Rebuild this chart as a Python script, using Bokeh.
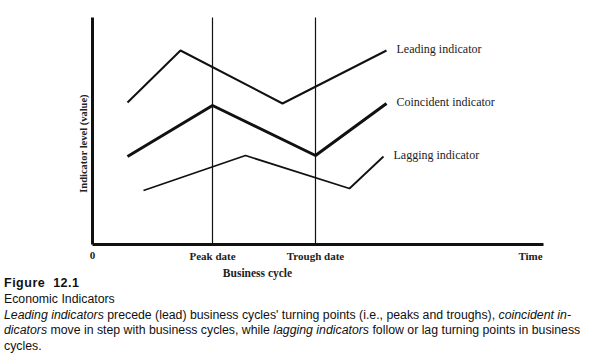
from bokeh.plotting import figure
from bokeh.models import Range1d, Div
from bokeh.layouts import column
from bokeh.embed import file_html
from bokeh.resources import INLINE
from bokeh.core.properties import value
import math

# --- data (time units along the business cycle, indicator level units) ---
leading_x = [3.5, 8.8, 19.0, 29.4]
leading_y = [14.2, 19.4, 14.1, 19.4]
coincident_x = [3.5, 12.0, 22.3, 29.4]
coincident_y = [8.8, 13.9, 8.9, 14.1]
lagging_x = [5.1, 15.3, 25.7, 29.1]
lagging_y = [5.4, 8.9, 5.6, 8.8]
series_names = ["Leading indicator", "Coincident indicator", "Lagging indicator"]

peak_date = 12.0
trough_date = 22.3
time_pos = 43.8
tick_values = [0, peak_date, trough_date, time_pos]
tick_labels = ["0", "Peak date", "Trough date", "Time"]
x_label = "Business cycle"
y_label = "Indicator level (value)"

x_max = 45.1
y_max = 22.7

SERIF = "Liberation Serif"
INK = "#111111"

# plot area spans the whole canvas so that axis texts are not clipped
p = figure(width=608, height=284, x_range=Range1d(-9.2, x_max + 6.5), y_range=Range1d(-4.0, y_max + 1.7),
           output_backend="svg", toolbar_location=None, min_border=0)
p.axis.visible = False
p.grid.visible = False
p.outline_line_color = None
p.background_fill_color = "white"
p.border_fill_color = "white"

# axes drawn as lines
p.line([0, 0], [0, y_max], line_color=INK, line_width=3)
p.line([0, x_max], [0, 0], line_color=INK, line_width=3)

# vertical date lines
p.segment(x0=[peak_date, trough_date], y0=[0, 0], x1=[peak_date, trough_date], y1=[y_max, y_max],
          line_color=INK, line_width=1.2)

# indicator lines
p.line(leading_x, leading_y, line_color=INK, line_width=2)
p.line(coincident_x, coincident_y, line_color=INK, line_width=3)
p.line(lagging_x, lagging_y, line_color=INK, line_width=1.8)

end_x = [leading_x[-1], coincident_x[-1], lagging_x[-1]]
end_y = [leading_y[-1], coincident_y[-1], lagging_y[-1]]
p.text(x=end_x, y=end_y, text=series_names, x_offset=10, y_offset=-2,
       text_font=value(SERIF), text_font_size="12px", text_color="#222222",
       text_align="left", text_baseline="middle")

# tick labels
p.text(x=tick_values, y=[0] * len(tick_values), text=tick_labels, y_offset=11,
       text_font=value(SERIF), text_font_size="11px", text_font_style="bold",
       text_color="#222222", text_align="center", text_baseline="middle")

# axis titles
p.text(x=[(peak_date + trough_date) / 2 - 0.65], y=[0], text=[x_label], y_offset=28,
       text_font=value(SERIF), text_font_size="11.5px", text_font_style="bold",
       text_color="#222222", text_align="center", text_baseline="middle")
p.text(x=[0], y=[y_max * 0.445], text=[y_label], x_offset=-9, angle=math.pi / 2,
       text_font=value(SERIF), text_font_size="10.5px", text_font_style="bold",
       text_color="#222222", text_align="center", text_baseline="middle")

caption = Div(text=(
    "<div style=\"font-family:'Liberation Sans',Arial,sans-serif;font-size:12.3px;line-height:15.8px;"
    "color:#111;width:604px;padding-left:4px;\">"
    "<b style='font-size:12.5px;letter-spacing:0.5px'>Figure&nbsp;&nbsp;12.1</b><br>"
    "Economic Indicators<br>"
    "<i>Leading indicators</i> precede (lead) business cycles' turning points (i.e., peaks and troughs), <i>coincident in-</i><br>"
    "<i>dicators</i> move in step with business cycles, while <i>lagging indicators</i> follow or lag turning points in business<br>"
    "cycles.</div>"), width=608, height=80, margin=(-8, 0, 0, 0))

layout = column(p, caption, spacing=0)
open("out.html", "w").write(file_html(layout, INLINE))
